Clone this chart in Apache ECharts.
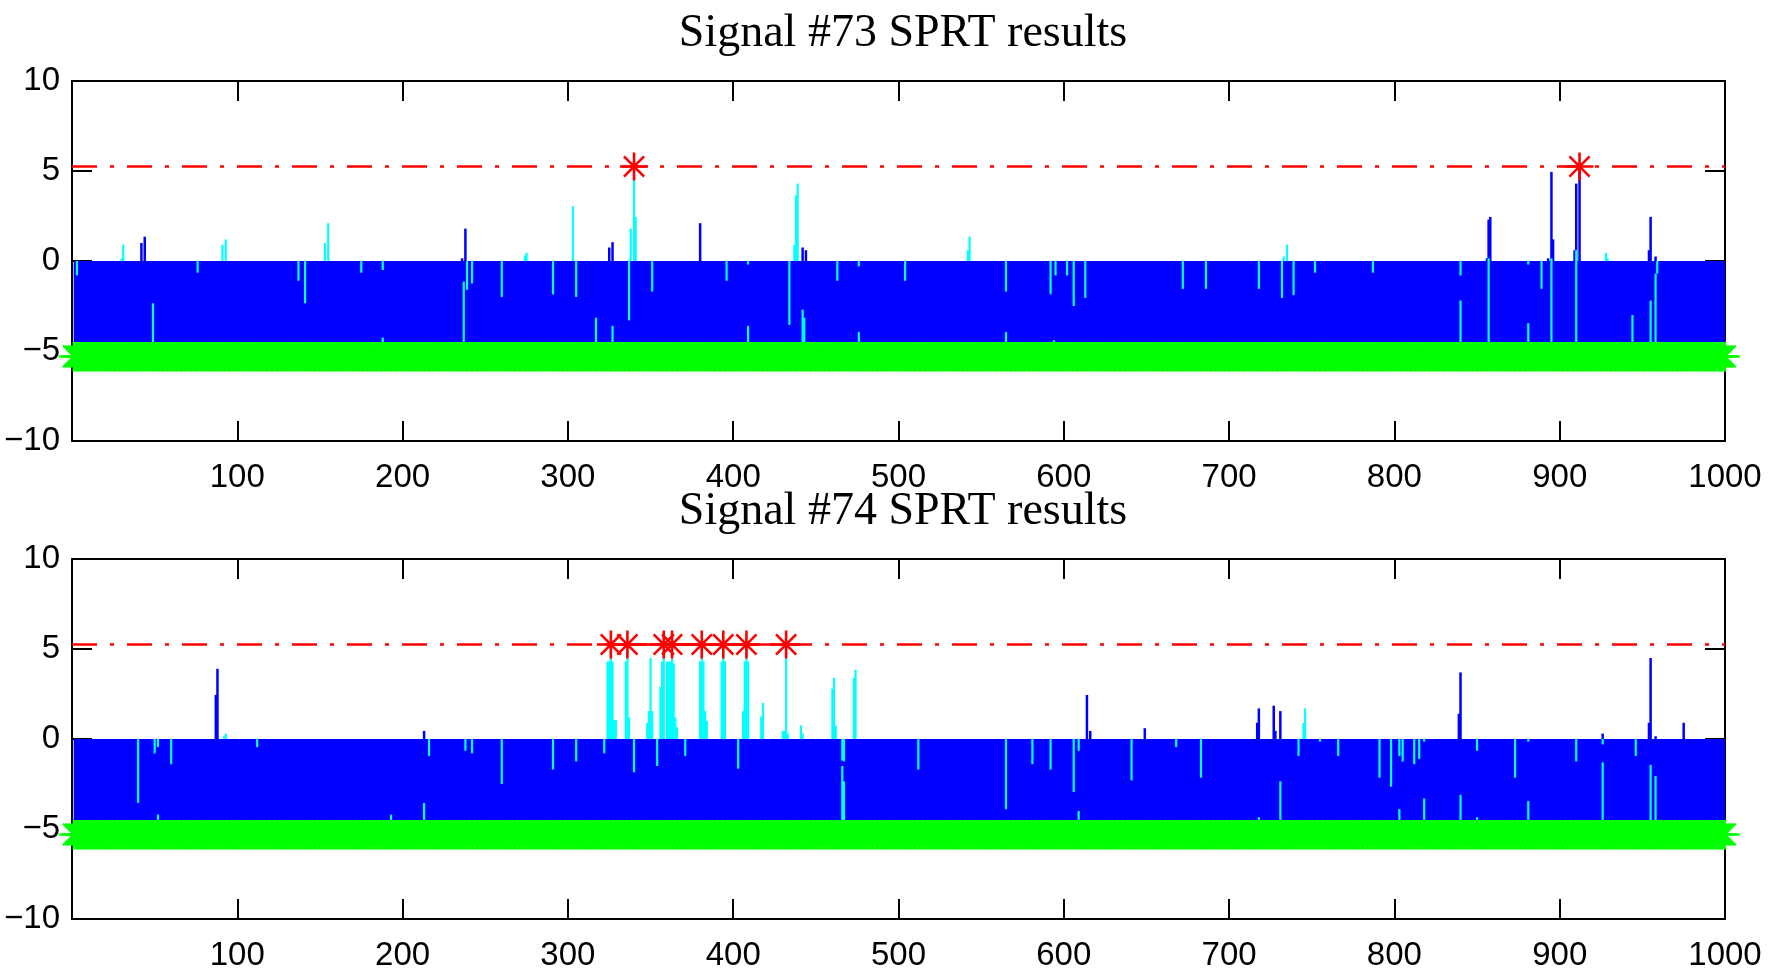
<!DOCTYPE html>
<html>
<head>
<meta charset="utf-8">
<script src="https://cdn.jsdelivr.net/npm/echarts@6/dist/echarts.min.js"></script>
<style>
  html, body { margin: 0; padding: 0; background: #ffffff; }
  #chart { width: 1781px; height: 976px; }
</style>
</head>
<body>
<div id="chart"></div>
<script>
// ---- SPRT run for two signals, 1000 samples each ----
const titles = ['Signal #73 SPRT results', 'Signal #74 SPRT results'];
const xTicks = [100, 200, 300, 400, 500, 600, 700, 800, 900, 1000];
const yTicks = [-10, -5, 0, 5, 10];

const sampleCount = 1000;
const threshold = 5.25;     // upper (alarm) threshold, dash-dot line
const lowerBound = -4.5;    // lower boundary reached every sample
const acceptLevel = -5.3;   // row of H0 decisions

// positive excursions of the blue index: [sample, value]
const blueUp73 = [[42,1.0],[44,1.35],[236,0.15],[238,1.8],[325,0.75],[327,1.05],[380,2.1],
  [442,0.75],[444,0.6],[856,0.15],[857,2.3],[858,2.45],[893,0.15],[895,4.95],[896,1.2],
  [909,0.6],[910,4.3],[912,5.25],[954,0.6],[955,2.45],[958,0.25]];
const blueUp74 = [[87,2.45],[88,3.9],[213,0.45],[614,2.45],[616,0.45],[649,0.6],[717,0.9],
  [718,1.7],[727,1.85],[728,0.45],[731,1.55],[839,1.4],[840,3.7],[926,0.3],[954,0.9],
  [955,4.5],[958,0.15],[975,0.9]];

// visible pieces of the cyan index: [sample, from, to]
const cyan73 = [[3,0,-0.8],[30,0,0.15],[31,0,0.9],[49,-4.5,-2.35],[76,0,-0.65],[91,0,0.9],
  [93,0,1.2],[137,0,-1.1],[141,0,-2.35],[153,0,1.0],[155,0,2.1],[175,0,-0.65],[188,0,-0.5],
  [188,-4.5,-4.25],[237,-1.15,-4.5],[239,0,-1.6],[242,0,-1.25],[260,0,-2.0],[274,0,0.3],
  [275,0,0.45],[291,0,-1.85],[303,0,3.05],[305,0,-2.0],[317,-4.5,-3.15],[327,-4.5,-3.6],
  [337,0,-3.3],[338,0,1.8],[340,0,5.25],[341,0,2.45],[351,0,-1.7],[396,0,-1.1],[409,0,-0.2],
  [409,-4.5,-3.6],[434,0,-3.55],[437,0,0.9],[438,0,3.65],[439,0,4.3],[442,-4.5,-2.7],
  [443,-4.5,-3.15],[463,0,-1.1],[476,0,-0.3],[476,-4.5,-3.95],[504,0,-1.1],[542,0,0.6],
  [543,0,1.35],[565,0,-1.7],[565,-4.5,-3.95],[592,0,-1.85],[594,-4.5,-4.4],[595,0,-0.8],
  [602,0,-0.8],[606,0,-2.5],[613,0,-2.05],[672,0,-1.55],[686,0,-1.55],[718,0,-1.55],
  [732,0,-2.05],[733,0,0.25],[735,0,0.9],[739,0,-1.9],[752,0,-0.65],[787,0,-0.65],
  [840,0,-0.8],[840,-4.5,-2.2],[857,0.15,-4.5],[881,0,-0.2],[881,-4.5,-3.45],[889,0,-1.55],
  [895,0.15,-4.5],[910,0.6,-4.5],[928,0,0.45],[929,0,0.15],[944,-4.5,-3.0],[955,-4.5,-2.2],
  [958,-0.7,-4.5],[959,0,-0.7]];
const cyan74 = [[40,0,-3.55],[50,0,-0.8],[52,0,-0.45],[52,-4.5,-4.2],[60,0,-1.4],[92,0,0.15],
  [93,0,0.3],[112,0,-0.45],[193,-4.5,-4.2],[213,-4.5,-3.55],[216,0,-0.95],[238,0,-0.65],
  [242,0,-0.8],[260,0,-2.5],[291,0,-1.7],[305,0,-1.25],[322,0,-0.8],
  [324,0,4.3],[325,0,4.3],[326,0,5.25],[327,0,4.3],[328,0,1.05],[329,0,1.05],[335,0,4.3],
  [336,0,5.25],[337,0,1.2],[340,0,-1.85],[348,0,0.9],[349,0,1.55],[350,0,4.5],[351,0,1.55],
  [354,0,-1.5],[356,0,2.9],[357,0,4.3],[358,0,5.25],[360,0,4.3],[361,0,4.3],[362,0,4.3],
  [363,0,5.25],[364,0,4.2],[365,0,1.2],[366,0,0.65],[371,0,-0.95],[380,0,4.3],[381,0,5.25],
  [382,0,4.3],[383,0,1.55],[384,0,1.0],[393,0,4.3],[394,0,5.25],[395,0,4.3],[403,0,-1.65],
  [406,0,1.55],[407,0,4.3],[408,0,5.25],[409,0,4.3],[417,0,1.25],[418,0,2.0],[430,0,0.45],
  [431,0,0.45],[432,0,5.25],[433,0,0.3],[441,0,0.75],[442,0,0.3],[460,0,2.8],[461,0,3.4],
  [462,0,0.75],[466,0,-1.2],[466,-1.5,-4.5],[467,0,-1.25],[467,-2.35,-4.5],[473,0,3.4],
  [474,0,3.85],[512,0,-1.7],[565,0,-3.9],[581,0,-1.4],[592,0,-1.7],[606,0,-2.95],
  [609,0,-0.65],[609,-4.5,-4.0],[641,0,-2.3],[668,0,-0.45],[683,0,-2.15],[718,-4.5,-4.35],
  [731,-4.5,-2.35],[742,0,-0.95],[745,0,0.9],[746,0,1.7],[755,0,-0.15],[766,0,-0.95],
  [791,0,-2.15],[798,0,-2.65],[803,0,-0.95],[803,-4.5,-3.9],[805,0,-1.25],[812,0,-1.4],
  [815,0,-1.1],[818,0,-0.15],[818,-4.5,-3.3],[840,-4.5,-3.1],[850,0,-0.65],[850,-4.5,-4.35],
  [873,0,-2.15],[881,0,-0.15],[881,-4.5,-3.45],[910,0,-1.25],[926,0,-0.3],[926,-1.3,-4.5],
  [946,0,-0.95],[955,-1.43,-4.5],[958,-2.05,-4.5]];

// alarm samples (threshold crossings); each inner list is one connected run
const alarmRuns73 = [[340], [912]];
const alarmRuns74 = [[326, 336, 358, 363, 381, 394, 408, 432]];

// ---- drawing helpers ----
const BLUE = '#0000ff', CYAN = '#00ffff', GREEN = '#00ff00', RED = '#ff0000';
const LABEL_FONT = "'Liberation Sans', Arial, sans-serif";
const TITLE_FONT = "'Liberation Serif', 'Times New Roman', serif";

function segmentRender(color, width) {
  return function (params, api) {
    const a = api.coord([api.value(0), api.value(1)]);
    const b = api.coord([api.value(0), api.value(2)]);
    return { type: 'line', shape: { x1: a[0], y1: a[1], x2: b[0], y2: b[1] },
             style: { stroke: color, lineWidth: width } };
  };
}

function starRender(color, r, width) {
  return function (params, api) {
    const c = api.coord([api.value(0), api.value(1)]);
    const d = r * 0.72;
    const arms = [[-r, 0, r, 0], [0, -r, 0, r], [-d, -d, d, d], [-d, d, d, -d]];
    let p = '';
    arms.forEach(function (s) {
      p += 'M' + (c[0] + s[0]) + ' ' + (c[1] + s[1]) + 'L' + (c[0] + s[2]) + ' ' + (c[1] + s[3]);
    });
    return { type: 'path', shape: { pathData: p },
             style: { stroke: color, fill: null, lineWidth: width } };
  };
}

function bandRender(params, api) {
  const a = api.coord([api.value(0), api.value(2)]);
  const b = api.coord([api.value(1), api.value(3)]);
  return { type: 'rect', shape: { x: a[0], y: a[1], width: b[0] - a[0], height: b[1] - a[1] },
           style: { fill: BLUE } };
}

function negLabel(v) { return v < 0 ? '\u2212' + Math.abs(v) : String(v); }

const gridTops = [81, 559];
const panels = [
  { blue: blueUp73, cyan: cyan73, alarms: alarmRuns73 },
  { blue: blueUp74, cyan: cyan74, alarms: alarmRuns74 }
];

const samples = [];
for (let i = 1; i <= sampleCount; i++) samples.push(i);

const option = {
  animation: false,
  backgroundColor: '#ffffff',
  title: titles.map(function (t, k) {
    return { text: t, left: 898, top: k === 0 ? 6 : 484, textAlign: 'center',
             textStyle: { fontFamily: TITLE_FONT, fontSize: 46, fontWeight: 'normal', color: '#000' } };
  }),
  grid: gridTops.map(function (t) { return { left: 72, top: t, width: 1653, height: 360 }; }),
  xAxis: [],
  yAxis: [],
  series: []
};

gridTops.forEach(function (t, g) {
  const axisLine = { show: true, onZero: false, lineStyle: { color: '#000', width: 2 } };
  const tick = { show: true, inside: true, length: 20, lineStyle: { color: '#000', width: 2 } };
  ['bottom', 'top'].forEach(function (pos) {
    option.xAxis.push({
      type: 'value', gridIndex: g, position: pos, min: 0, max: sampleCount, interval: 100,
      axisLine: axisLine, axisTick: tick, splitLine: { show: false },
      axisLabel: {
        show: pos === 'bottom', margin: 20, color: '#000', fontFamily: LABEL_FONT, fontSize: 33,
        formatter: function (v) { return xTicks.indexOf(v) >= 0 ? String(v) : ''; }
      }
    });
  });
  ['left', 'right'].forEach(function (pos) {
    option.yAxis.push({
      type: 'value', gridIndex: g, position: pos, min: yTicks[0], max: yTicks[yTicks.length - 1],
      interval: 5,
      axisLine: axisLine, axisTick: tick, splitLine: { show: false },
      axisLabel: {
        show: pos === 'left', margin: 12, color: '#000', fontFamily: LABEL_FONT, fontSize: 33,
        formatter: negLabel
      }
    });
  });

  const P = panels[g];
  const xi = g * 2, yi = g * 2;

  // H0 decisions: a green star at every sample
  option.series.push({
    type: 'custom', xAxisIndex: xi, yAxisIndex: yi, z: 2, silent: true,
    renderItem: starRender(GREEN, 15, 2),
    data: samples.map(function (s) { return [s, acceptLevel]; })
  });
  // blue index oscillating between 0 and the lower boundary
  option.series.push({
    type: 'custom', xAxisIndex: xi, yAxisIndex: yi, z: 3, silent: true,
    renderItem: bandRender,
    data: [[samples[0], samples[samples.length - 1], 0, lowerBound]]
  });
  // blue excursions above zero
  option.series.push({
    type: 'custom', xAxisIndex: xi, yAxisIndex: yi, z: 4, silent: true,
    renderItem: segmentRender(BLUE, 2.5),
    data: P.blue.map(function (d) { return [d[0], 0, d[1]]; })
  });
  // cyan index
  option.series.push({
    type: 'custom', xAxisIndex: xi, yAxisIndex: yi, z: 5, silent: true,
    renderItem: segmentRender(CYAN, 2.2),
    data: P.cyan
  });
  // alarm threshold
  option.series.push({
    type: 'line', xAxisIndex: xi, yAxisIndex: yi, z: 6, silent: true, symbol: 'none',
    lineStyle: { color: RED, width: 2.5, type: [25, 13, 4, 13] },
    data: [[0, threshold], [sampleCount, threshold]]
  });
  // alarms: runs joined by a solid line, each marked with a star
  const runData = [];
  P.alarms.forEach(function (run, k) {
    if (k > 0) runData.push([null, null]);
    run.forEach(function (s) { runData.push([s, threshold]); });
  });
  option.series.push({
    type: 'line', xAxisIndex: xi, yAxisIndex: yi, z: 7, silent: true, symbol: 'none',
    connectNulls: false, lineStyle: { color: RED, width: 2.5 },
    data: runData
  });
  option.series.push({
    type: 'custom', xAxisIndex: xi, yAxisIndex: yi, z: 8, silent: true,
    renderItem: starRender(RED, 14, 2.6),
    data: [].concat.apply([], P.alarms).map(function (s) { return [s, threshold]; })
  });
});

const chart = echarts.init(document.getElementById('chart'), null, { renderer: 'canvas' });
chart.setOption(option);
</script>
</body>
</html>
